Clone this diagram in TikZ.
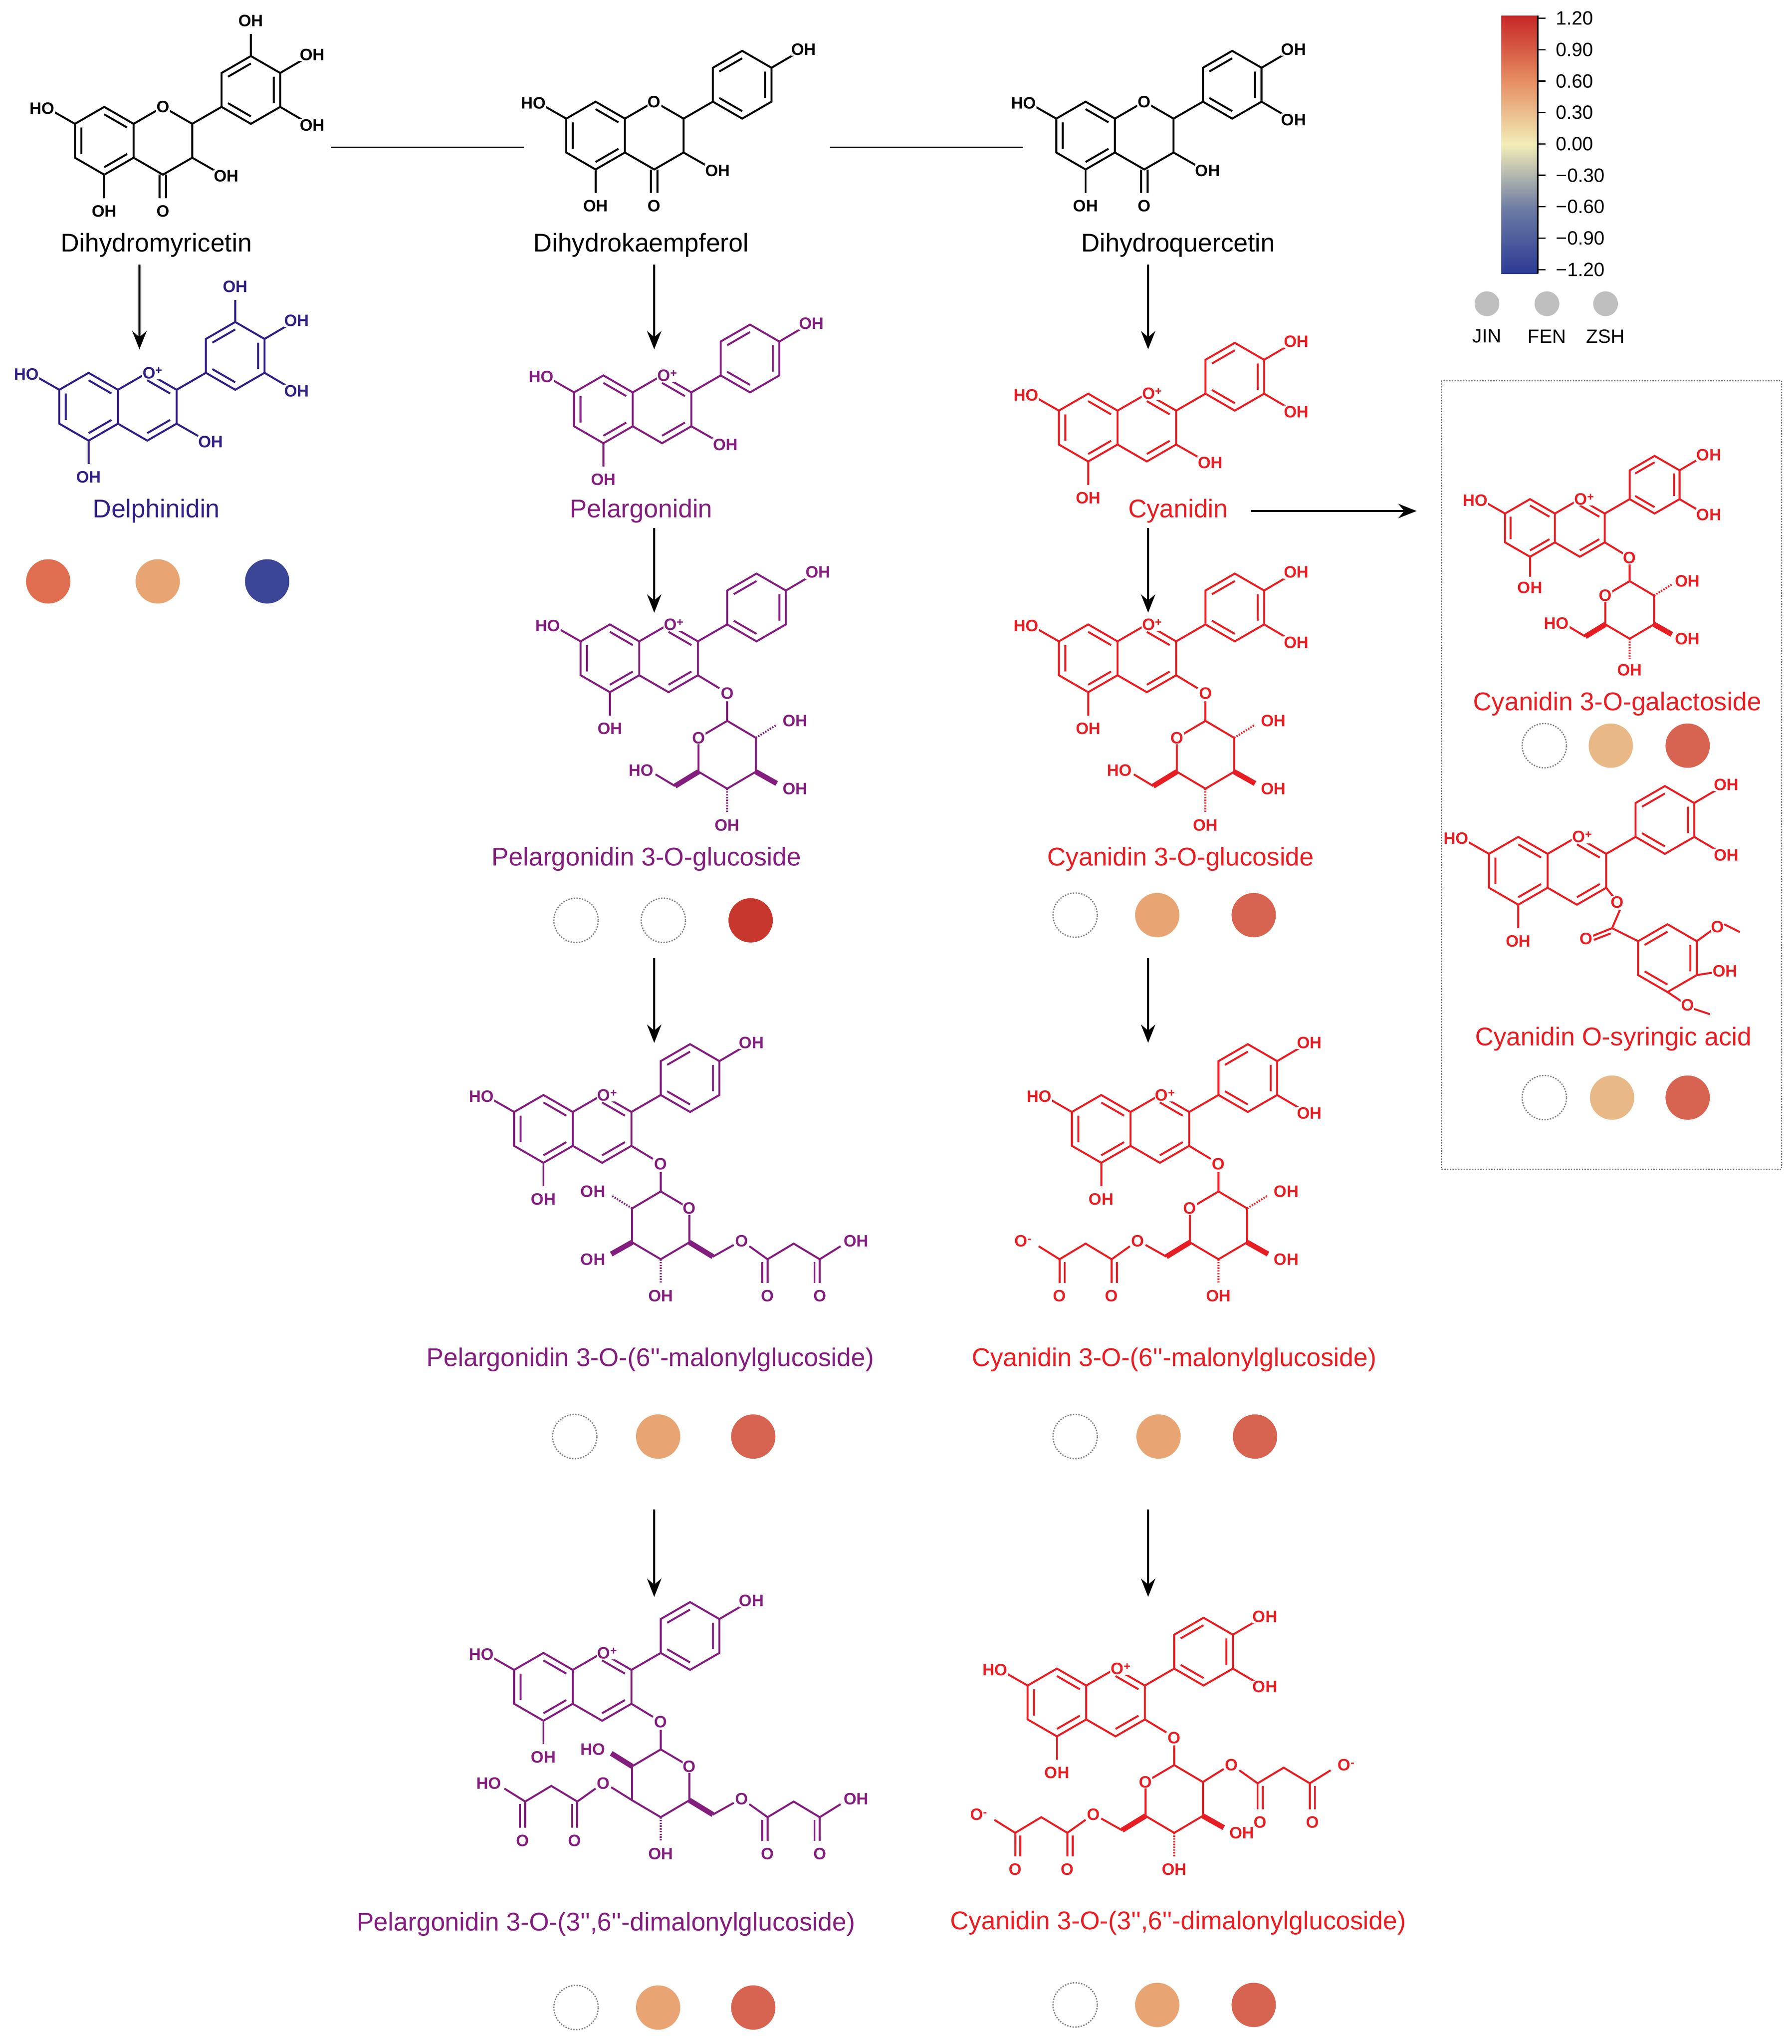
\documentclass[tikz,border=0pt]{standalone}
\usepackage{fontspec}
\setmainfont{Liberation Sans}
\usetikzlibrary{arrows.meta}
\definecolor{pg}{RGB}{130,30,125}
\definecolor{dp}{RGB}{50,30,130}
\definecolor{cy}{RGB}{230,30,35}
\definecolor{dA}{RGB}{224,110,80}
\definecolor{dB}{RGB}{232,165,115}
\definecolor{dC}{RGB}{60,70,150}
\definecolor{dR}{RGB}{200,55,45}
\definecolor{dO}{RGB}{215,100,80}
\definecolor{dT}{RGB}{232,185,135}
\pgfdeclareverticalshading{cbar}{100bp}{rgb(0bp)=(0.17,0.23,0.58); rgb(25bp)=(0.17,0.23,0.58); rgb(37.5bp)=(0.42,0.48,0.64); rgb(50bp)=(0.95,0.93,0.72); rgb(62.5bp)=(0.90,0.55,0.38); rgb(75bp)=(0.78,0.15,0.15); rgb(100bp)=(0.78,0.15,0.15)}
\newcommand\chemf{\fontsize{36}{36}\selectfont\bfseries}
\newcommand\dq{\textquotesingle\textquotesingle}
\newcommand\Aring{%
 \draw (0,-26)--(22.5,-13)--(22.5,13)--(0,26)--(-22.5,13)--(-22.5,-13)--cycle;
 \draw[scale=.78] (-22.5,-13)--(-22.5,13) (0,-26)--(22.5,-13) (0,26)--(22.5,13);
 \draw (-22.5,-13)--(-40,-23); \node[lab,anchor=east] at (-37,-25) {HO};
 \draw (0,26)--(0,44); \node[lab] at (0,54) {OH};}
\newcommand\Cflavy{%
 \draw (22.5,-13)--(45,-26)--(67.5,-13)--(67.5,13)--(45,26)--(22.5,13);
 \begin{scope}[shift={(45,0)}]\draw[scale=.78] (0,-26)--(22.5,-13) (22.5,13)--(0,26);\end{scope}
 \node[lab] at (49,-26) {O\textsuperscript{+}};}
\newcommand\Cdihyd{%
 \draw (22.5,-13)--(45,-26)--(67.5,-13)--(67.5,13)--(45,26)--(22.5,13);
 \node[lab] at (45,-26) {O};
 \draw (42.5,26)--(42.5,44) (47.5,26)--(47.5,44); \node[lab] at (45,54) {O};
 \draw (67.5,13)--(85,23); \node[lab,anchor=west] at (83,27) {OH};}
\newcommand\Bring[1]{%
 \draw (67.5,-13)--(90,-26);
 \begin{scope}[shift={(112.5,-39)}]
  \draw (-22.5,13)--(-22.5,-13)--(0,-26)--(22.5,-13)--(22.5,13)--(0,26)--cycle;
  \draw[scale=.78] (-22.5,-13)--(0,-26) (22.5,-13)--(22.5,13) (0,26)--(-22.5,13);
 \end{scope}
 \draw (135,-52)--(152,-62); \node[lab,anchor=west] at (149,-66) {OH};
 \ifnum#1>1 \draw (135,-26)--(152,-16); \node[lab,anchor=west] at (149,-12) {OH};\fi
 \ifnum#1>2 \draw (112.5,-65)--(112.5,-82); \node[lab] at (112.5,-92) {OH};\fi}
\newcommand\COH{\draw (67.5,13)--(85,23); \node[lab,anchor=west] at (83,27) {OH};}
\newcommand\CO{\draw (67.5,13)--(84,23); \node[lab] at (90,27) {O};}
\newcommand\Sug{%
 \draw (0,-15)--(0,0);
 \draw (0,0)--(22,13)--(22,39)--(0,52)--(-22,39)--(-22,13)--cycle;
 \node[lab] at (-22,13) {O};
 \draw[dashed] (0,52)--(0,70); \node[lab] at (0,80) {OH};}
\newcommand\SugCthree{\draw[line width=4mm] (22,39)--(38,48); \node[lab] at (52,52) {OH};}
\newcommand\SugCtwo{\draw[dashed] (22,13)--(38,3); \node[lab] at (52,0) {OH};}
\newcommand\SugCH{\draw[line width=4mm] (-22,39)--(-40,50); \draw (-40,50)--(-55,41); \node[lab] at (-66,38) {HO};}
\newcommand\Mal[1]{%
 \draw[line width=4mm] (-22,39)--(-40,50); \draw (-40,50)--(-56,41); \node[lab] at (-62,38) {O};
 \draw (-68,42)--(-82,52)--(-102,40)--(-122,52)--(-138,42);
 \draw (-82,52)--(-82,70) (-78,54)--(-78,70); \node[lab] at (-82,80) {O};
 \draw (-122,52)--(-122,70) (-118,54)--(-118,70); \node[lab] at (-122,80) {O};
 \node[lab] at (-150,38) {#1};}
\newcommand\MalB[1]{%
 \draw (22,13)--(38,3); \node[lab] at (44,0) {O};
 \draw (50,4)--(64,14)--(84,2)--(104,14);
 \draw (64,14)--(64,34) (68,16)--(68,34); \node[lab] at (66,44) {O};
 \draw (104,14)--(104,34) (108,16)--(108,34); \node[lab] at (106,44) {O};
 \draw (104,14)--(120,4); \node[lab] at (132,0) {#1};}
\tikzset{
 every picture/.style={line width=1.5mm},
 lab/.style={font=\chemf, inner sep=0.4mm, fill=white},
 cname/.style={font=\fontsize{56}{60}\selectfont},
 arr/.style={line width=1.6mm,-{Stealth[length=14mm,width=11mm]}},
 dot/.style={circle,minimum size=34mm,inner sep=0,draw=none},
 edot/.style={circle,minimum size=34mm,inner sep=0,draw=gray,dashed,line width=1mm},
 tick/.style={font=\fontsize{42}{44}\selectfont,anchor=west}}
\begin{document}
\begin{tikzpicture}[x=1mm,y=-1mm]
\useasboundingbox (0,0) rectangle (1375,1568);
\fill[white] (0,0) rectangle (1375,1568);
% dihydroflavonols
\begin{scope}[shift={(80,108)}]\Aring\Cdihyd\Bring{3}\end{scope}
\begin{scope}[shift={(457,104)}]\Aring\Cdihyd\Bring{1}\end{scope}
\begin{scope}[shift={(833,104)}]\Aring\Cdihyd\Bring{2}\end{scope}
\node[cname] (dhm) at (120,188) {Dihydromyricetin};
\node[cname] (dhk) at (492,188) {Dihydrokaempferol};
\node[cname] (dhq) at (904,188) {Dihydroquercetin};
\coordinate (l1a) at (254,113); \coordinate (l1b) at (402,113);
\coordinate (l2a) at (637,113); \coordinate (l2b) at (785,113);
\draw[line width=1mm] (l1a)--(l1b) (l2a)--(l2b);
% anthocyanidins
\begin{scope}[shift={(68,312)},color=dp,text=dp]\Aring\Cflavy\Bring{3}\COH\end{scope}
\begin{scope}[shift={(463,314)},color=pg,text=pg]\Aring\Cflavy\Bring{1}\COH\end{scope}
\begin{scope}[shift={(835,328)},color=cy,text=cy]\Aring\Cflavy\Bring{2}\COH\end{scope}
\node[cname,text=dp] (del) at (120,392) {Delphinidin};
\node[cname,text=pg] (pel) at (492,392) {Pelargonidin};
\node[cname,text=cy] (cya) at (904,392) {Cyanidin};
% glucosides
\begin{scope}[shift={(468,505)},color=pg,text=pg]\Aring\Cflavy\Bring{1}\CO
 \begin{scope}[shift={(90,48)}]\Sug\SugCtwo\SugCthree\SugCH\end{scope}\end{scope}
\begin{scope}[shift={(835,505)},color=cy,text=cy]\Aring\Cflavy\Bring{2}\CO
 \begin{scope}[shift={(90,48)}]\Sug\SugCtwo\SugCthree\SugCH\end{scope}\end{scope}
\node[cname,text=pg] (pg3g) at (496,659) {Pelargonidin 3-O-glucoside};
\node[cname,text=cy] (cy3g) at (906,659) {Cyanidin 3-O-glucoside};
% malonyl
\begin{scope}[shift={(417,866)},color=pg,text=pg]\Aring\Cflavy\Bring{1}\CO
 \begin{scope}[shift={(90,48)},xscale=-1]\Sug\SugCtwo\SugCthree\Mal{OH}\end{scope}\end{scope}
\begin{scope}[shift={(845,866)},color=cy,text=cy]\Aring\Cflavy\Bring{2}\CO
 \begin{scope}[shift={(90,48)}]\Sug\SugCtwo\SugCthree\Mal{O\textsuperscript{-}}\end{scope}\end{scope}
\node[cname,text=pg] (pgm) at (499,1043) {Pelargonidin 3-O-(6\dq-malonylglucoside)};
\node[cname,text=cy] (cym) at (901,1043) {Cyanidin 3-O-(6\dq-malonylglucoside)};
% dimalonyl
\begin{scope}[shift={(417,1294)},color=pg,text=pg]\Aring\Cflavy\Bring{1}\CO
 \begin{scope}[shift={(90,48)},xscale=-1]\Sug
  \draw[line width=4mm] (22,13)--(38,3); \node[lab] at (52,0) {HO};
  \begin{scope}[shift={(0,26)}]\MalB{HO}\end{scope}\Mal{OH}\end{scope}\end{scope}
\begin{scope}[shift={(811,1306)},color=cy,text=cy]\Aring\Cflavy\Bring{2}\CO
 \begin{scope}[shift={(90,48)}]\Sug\SugCthree\MalB{O\textsuperscript{-}}\Mal{O\textsuperscript{-}}\end{scope}\end{scope}
\node[cname,text=pg] (pgd) at (465,1476) {Pelargonidin 3-O-(3\dq,6\dq-dimalonylglucoside)};
\node[cname,text=cy] (cyd) at (904,1475) {Cyanidin 3-O-(3\dq,6\dq-dimalonylglucoside)};
% box compounds
\draw[line width=0.8mm,dashed,gray] (1106,292) rectangle (1367,897);
\begin{scope}[shift={(1174,405)},scale=0.85,color=cy,text=cy]\Aring\Cflavy\Bring{2}\CO
 \begin{scope}[shift={(90,48)}]\Sug\SugCtwo\SugCthree\SugCH\end{scope}\end{scope}
\node[cname,text=cy] (cgal) at (1241,540) {Cyanidin 3-O-galactoside};
\begin{scope}[shift={(1165,668)},color=cy,text=cy]\Aring\Cflavy\Bring{2}
 \draw (67.5,13)--(73,20); \node[lab] at (76,24) {O};
 \draw (78,30)--(72,44)--(92,54);
 \draw (72,44)--(57,50) (71,48)--(58,53); \node[lab] at (52,52) {O};
 \begin{scope}[shift={(114.5,67)}]
  \draw (-22.5,13)--(-22.5,-13)--(0,-26)--(22.5,-13)--(22.5,13)--(0,26)--cycle;
  \draw[scale=.78] (-22.5,-13)--(0,-26) (22.5,-13)--(22.5,13) (0,26)--(-22.5,13);
 \end{scope}
 \draw (137,54)--(148,46); \node[lab] at (153,43) {O}; \draw (158,41)--(170,47);
 \draw (137,80)--(150,78); \node[lab,anchor=west] at (148,77) {OH};
 \draw (114.5,93)--(125,100); \node[lab] at (130,103) {O}; \draw (135,106)--(147,110);
\end{scope}
\node[cname,text=cy] (csyr) at (1238,797) {Cyanidin O-syringic acid};
% arrows
\coordinate (a1) at (107,203); \coordinate (b1) at (107,268);
\coordinate (a2) at (502,203); \coordinate (b2) at (502,268);
\coordinate (a3) at (881,203); \coordinate (b3) at (881,268);
\coordinate (a4) at (502,405); \coordinate (b4) at (502,470);
\coordinate (a5) at (881,405); \coordinate (b5) at (881,470);
\coordinate (a6) at (960,392); \coordinate (b6) at (1087,392);
\coordinate (a7) at (502,735); \coordinate (b7) at (502,800);
\coordinate (a8) at (881,735); \coordinate (b8) at (881,800);
\coordinate (a9) at (502,1158); \coordinate (b9) at (502,1225);
\coordinate (a10) at (881,1158); \coordinate (b10) at (881,1225);
\foreach \i in {1,...,10} \draw[arr] (a\i)--(b\i);
% dots
\node[dot,fill=dA] (d1) at (37,446) {}; \node[dot,fill=dB] (d2) at (121,446) {}; \node[dot,fill=dC] (d3) at (205,446) {};
\node[edot] (e1) at (442,706) {}; \node[edot] (e2) at (509,706) {}; \node[dot,fill=dR] (e3) at (576,706) {};
\node[edot] (f1) at (825,702) {}; \node[dot,fill=dB] (f2) at (888,702) {}; \node[dot,fill=dO] (f3) at (962,702) {};
\node[edot] (g1) at (441,1102) {}; \node[dot,fill=dB] (g2) at (505,1102) {}; \node[dot,fill=dO] (g3) at (578,1102) {};
\node[edot] (h1) at (825,1102) {}; \node[dot,fill=dB] (h2) at (889,1102) {}; \node[dot,fill=dO] (h3) at (963,1102) {};
\node[edot] (i1) at (442,1540) {}; \node[dot,fill=dB] (i2) at (505,1540) {}; \node[dot,fill=dO] (i3) at (578,1540) {};
\node[edot] (j1) at (825,1538) {}; \node[dot,fill=dB] (j2) at (888,1538) {}; \node[dot,fill=dO] (j3) at (962,1538) {};
\node[edot] (k1) at (1185,572) {}; \node[dot,fill=dT] (k2) at (1236,572) {}; \node[dot,fill=dO] (k3) at (1295,572) {};
\node[edot] (m1) at (1185,842) {}; \node[dot,fill=dT] (m2) at (1237,842) {}; \node[dot,fill=dO] (m3) at (1295,842) {};
% colorbar
\shade[shading=cbar] (1152,12) rectangle (1180,210);
\draw[line width=1.2mm] (1180,12)--(1180,210);
\foreach \v [count=\k from 0] in {1.20,0.90,0.60,0.30,0.00,−0.30,−0.60,−0.90,−1.20}{
 \draw[line width=1mm] (1180,14+\k*24.1)--(1186,14+\k*24.1);
 \node[tick] at (1192,14+\k*24.1) {\v};}
\foreach \x/\t in {1141/JIN,1187/FEN,1232/ZSH}{
 \node[circle,fill=gray!50,minimum size=19mm,inner sep=0] (g\t) at (\x,233) {};
 \node[tick,anchor=center] (l\t) at (\x,258) {\t};}
\end{tikzpicture}
\end{document}
